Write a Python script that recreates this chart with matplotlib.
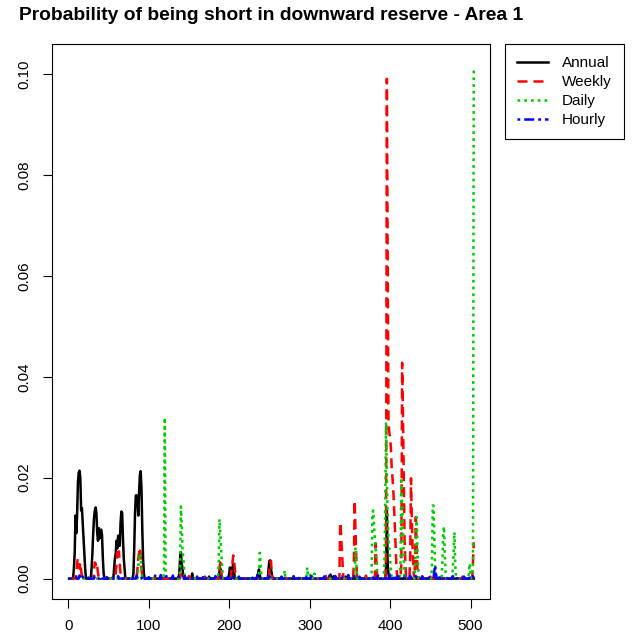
import numpy as np
import matplotlib
matplotlib.use("Agg")
import matplotlib.pyplot as plt

plt.rcParams['font.family'] = ['Liberation Sans', 'DejaVu Sans']

periods = np.arange(1, 505)

title = "Probability of being short in downward reserve - Area 1"
labels = ["Annual", "Weekly", "Daily", "Hourly"]
colors = ["#000000", "#FF0000", "#00CD00", "#0000FF"]
x_ticks = [0, 100, 200, 300, 400, 500]
y_ticks = [0.00, 0.02, 0.04, 0.06, 0.08, 0.10]
y_tick_labels = ["0.00", "0.02", "0.04", "0.06", "0.08", "0.10"]

# sparse non-zero values (period index, probability); other periods are 0
annual_x = [7, 8, 9, 10, 11, 12, 13, 14, 15, 16, 17, 18, 19, 20, 21,
            29, 30, 31, 32, 33, 34, 35, 36, 37, 38, 39, 40, 41, 42, 43, 44,
            57, 58, 59, 60, 61, 62, 63, 64, 65, 66, 67, 68, 69, 70,
            81, 82, 83, 84, 85, 86, 87, 88, 89, 90, 91, 92, 93, 94,
            138, 139, 140, 141, 142, 143, 154, 160, 175, 188, 189, 190,
            200, 201, 202, 204, 205, 206, 236, 237, 238, 249, 250, 251, 252, 253,
            320, 325, 326, 330, 345, 395, 396, 397, 398]
annual_y = [0.002, 0.005, 0.0125, 0.009, 0.0125, 0.019, 0.021, 0.0214, 0.020, 0.0135, 0.014, 0.011, 0.008, 0.005, 0.002,
            0.002, 0.005, 0.009, 0.012, 0.0135, 0.0141, 0.013, 0.009, 0.0075, 0.010, 0.008, 0.0095, 0.0097, 0.0085, 0.004, 0.001,
            0.002, 0.004, 0.005, 0.0075, 0.006, 0.0085, 0.0085, 0.0065, 0.011, 0.0133, 0.013, 0.008, 0.004, 0.002,
            0.001, 0.006, 0.013, 0.0165, 0.0165, 0.016, 0.0125, 0.017, 0.0205, 0.0213, 0.018, 0.010, 0.004, 0.001,
            0.001, 0.004, 0.0052, 0.003, 0.002, 0.0005, 0.001, 0.0003, 0.0004, 0.0015, 0.002, 0.001,
            0.001, 0.0022, 0.001, 0.002, 0.003, 0.0015, 0.001, 0.0018, 0.0008, 0.002, 0.0035, 0.0036, 0.002, 0.0008,
            0.0005, 0.0006, 0.0008, 0.0005, 0.0004, 0.002, 0.0135, 0.003, 0.001]

weekly_x = [10, 11, 12, 13, 14, 15, 16, 17,
            32, 33, 34, 35, 36, 37,
            59, 60, 61, 62, 63, 64, 65,
            86, 87, 88, 89, 90, 91, 92,
            140, 150, 170, 188, 189, 190, 203, 204, 205, 206, 207, 208,
            250, 251, 252, 253, 265, 280, 320, 330,
            338, 339, 340, 341, 355, 356, 357, 358, 370, 382, 383,
            395, 396, 397, 398, 399, 400, 401, 402, 403, 404, 405, 406, 407, 408,
            414, 415, 416, 417, 418, 419, 425, 426, 427, 428, 429,
            431, 432, 433, 434, 440, 450, 490, 503, 504]
weekly_y = [0.001, 0.003, 0.004, 0.0035, 0.002, 0.0032, 0.0015, 0.0005,
            0.0015, 0.0032, 0.003, 0.002, 0.0025, 0.001,
            0.001, 0.003, 0.0052, 0.004, 0.0054, 0.003, 0.001,
            0.002, 0.004, 0.005, 0.0062, 0.005, 0.002, 0.0005,
            0.001, 0.0005, 0.0004, 0.002, 0.0032, 0.001, 0.002, 0.003, 0.0046, 0.004, 0.002, 0.0005,
            0.002, 0.0032, 0.0035, 0.001, 0.0006, 0.0004, 0.0005, 0.0004,
            0.0112, 0.009, 0.006, 0.003, 0.003, 0.0155, 0.010, 0.004, 0.0006, 0.007, 0.003,
            0.004, 0.0991, 0.065, 0.031, 0.029, 0.028, 0.026, 0.022, 0.020, 0.0175, 0.014, 0.010, 0.006, 0.002,
            0.003, 0.0428, 0.033, 0.020, 0.008, 0.003, 0.004, 0.0199, 0.012, 0.006, 0.002,
            0.003, 0.0122, 0.006, 0.002, 0.0005, 0.0004, 0.0004, 0.003, 0.0072]

daily_x = [87, 88, 89, 90, 91,
           119, 120, 121,
           139, 140, 141, 142, 143, 144,
           187, 188, 189, 190, 191, 192,
           237, 238, 239, 240,
           269, 297, 300, 303, 306,
           357, 358,
           378, 379, 380, 381, 382, 383, 384,
           393, 394, 395, 396, 397, 398, 399, 400, 401,
           413, 414, 415, 416, 417,
           431, 432, 433, 434, 435,
           452, 453, 454, 455, 456,
           465, 466, 467, 468, 469,
           478, 479, 480, 481,
           498, 499, 500, 502, 503, 504]
daily_y = [0.002, 0.004, 0.005, 0.0045, 0.002,
           0.001, 0.0319, 0.001,
           0.002, 0.0143, 0.011, 0.006, 0.004, 0.002,
           0.003, 0.0118, 0.009, 0.006, 0.003, 0.001,
           0.001, 0.0051, 0.003, 0.001,
           0.0016, 0.0022, 0.001, 0.001, 0.001,
           0.0062, 0.003,
           0.013, 0.0135, 0.011, 0.008, 0.006, 0.004, 0.001,
           0.003, 0.015, 0.031, 0.020, 0.012, 0.008, 0.006, 0.004, 0.002,
           0.004, 0.020, 0.015, 0.010, 0.004,
           0.002, 0.008, 0.0122, 0.006, 0.002,
           0.002, 0.0145, 0.0145, 0.008, 0.002,
           0.003, 0.0085, 0.0103, 0.005, 0.001,
           0.002, 0.005, 0.0092, 0.003,
           0.001, 0.003, 0.001, 0.001, 0.002, 0.1013]

hourly_x = [10, 14, 18, 25, 33, 40, 48, 55, 62, 70, 78, 85, 92, 100, 108, 115, 122, 130,
            137, 145, 152, 160, 168, 175, 183, 190, 198, 205, 212, 220, 228, 235, 242, 250,
            258, 265, 272, 280, 288, 295, 302, 310, 318, 325, 332, 340, 348, 355, 362, 370,
            378, 385, 392, 400, 405, 410, 418, 425, 432, 440, 448, 455, 456, 457, 462, 470,
            478, 485, 492, 498, 503]
hourly_y = [0.0003, 0.0006, 0.0004, 0.0002, 0.0004, 0.0005, 0.0003, 0.0002, 0.0005, 0.0003, 0.0004, 0.0006,
            0.0005, 0.0003, 0.0006, 0.0007, 0.0005, 0.0006, 0.0004, 0.0005, 0.0003, 0.0004, 0.0006, 0.0003,
            0.0005, 0.0004, 0.0003, 0.0006, 0.0004, 0.0003, 0.0005, 0.0007, 0.0004, 0.0005, 0.0003, 0.0004,
            0.0003, 0.0005, 0.0004, 0.0006, 0.0005, 0.0003, 0.0004, 0.0006, 0.0005, 0.0004, 0.0007, 0.0005,
            0.0004, 0.0003, 0.0005, 0.0006, 0.0005, 0.0008, 0.0006, 0.0005, 0.0004, 0.0006, 0.0005, 0.0004,
            0.0005, 0.0015, 0.0026, 0.0010, 0.0005, 0.0004, 0.0005, 0.0003, 0.0004, 0.0006, 0.0005]


def build(xs, ys):
    s = np.zeros(len(periods))
    s[np.asarray(xs) - 1] = ys
    return s


series = [build(annual_x, annual_y), build(weekly_x, weekly_y),
          build(daily_x, daily_y), build(hourly_x, hourly_y)]
dash_styles = [None, (4.0, 2.4), (1.1, 1.6), (1.1, 1.6, 4.0, 1.6)]

W, H = 633, 639
fig = plt.figure(figsize=(W / 100, H / 100), dpi=100)
top_px, bot_px = 44, 599
ax = fig.add_axes([52 / W, (H - bot_px) / H, 438 / W, (bot_px - top_px) / H])

lw = 1.8
for s, lab, c, d in zip(series, labels, colors, dash_styles):
    if d is None:
        ax.plot(periods, s, color=c, lw=lw, label=lab, solid_joinstyle='round')
    else:
        ax.plot(periods, s, color=c, lw=lw, label=lab, dashes=d, dash_capstyle='butt')

ax.set_xlim(-20.2, 524.2)
ax.set_ylim(-0.00405, 0.1060)
ax.set_xticks(x_ticks)
ax.set_xticklabels([str(t) for t in x_ticks])
ax.set_yticks(y_ticks)
ax.set_yticklabels(y_tick_labels, rotation=90, va='center')
ax.tick_params(axis='both', direction='out', length=6.5, width=0.8, labelsize=10.9,
               color='#000000', pad=8)
for sp in ax.spines.values():
    sp.set_linewidth(0.8)

fig.text((52 + 490) / 2 / W, 1 - 16 / H, title, ha='center', va='center',
         fontsize=13.9, fontweight='bold')

leg = ax.legend(loc='upper left', bbox_to_anchor=(505 / W, 1 - top_px / H),
                bbox_transform=fig.transFigure, borderaxespad=0, fontsize=11,
                handlelength=2.0, handletextpad=0.9, labelspacing=0.32,
                borderpad=0.8, fancybox=False, framealpha=1, edgecolor='black')
leg.get_frame().set_linewidth(0.8)

fig.savefig("out.png", dpi=100)
